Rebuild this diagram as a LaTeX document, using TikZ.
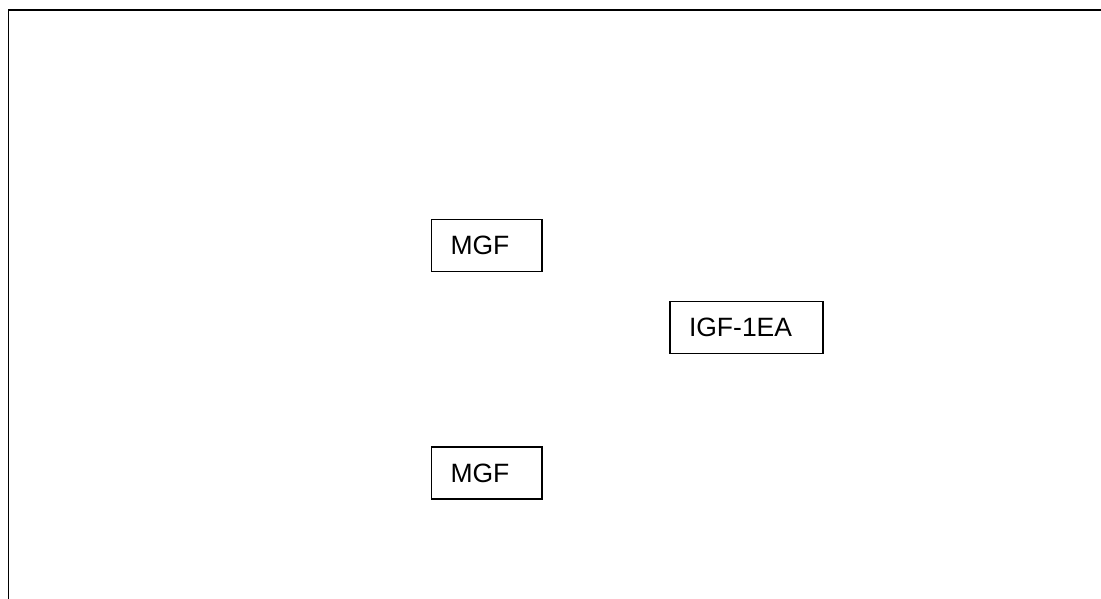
\documentclass[tikz,border=0pt]{standalone}
\usepackage{fontspec}
\setmainfont{Liberation Sans}
\begin{document}
\begin{tikzpicture}[x=1pt,y=-1pt,
  box/.style={draw=black, line width=1.5pt, rectangle, minimum height=52pt,
    inner xsep=19pt, inner ysep=0pt, align=left, font=\fontsize{26.5}{30}\selectfont}]
\useasboundingbox (0,0) rectangle (1101,599);
\coordinate (tl) at (8.5,10);
\coordinate (tr) at (1101,10);
\coordinate (bl) at (8.5,599);
\draw[line width=1.5pt] (tr) -- (tl) -- (bl);
\node[box, text width=72.5pt] (mgf1) at (486.75,245.5) {MGF};
\node[box, text width=115pt] (igf) at (746.5,327.5) {IGF-1EA};
\node[box, text width=72.5pt] (mgf2) at (486.75,473) {MGF};
\end{tikzpicture}
\end{document}
